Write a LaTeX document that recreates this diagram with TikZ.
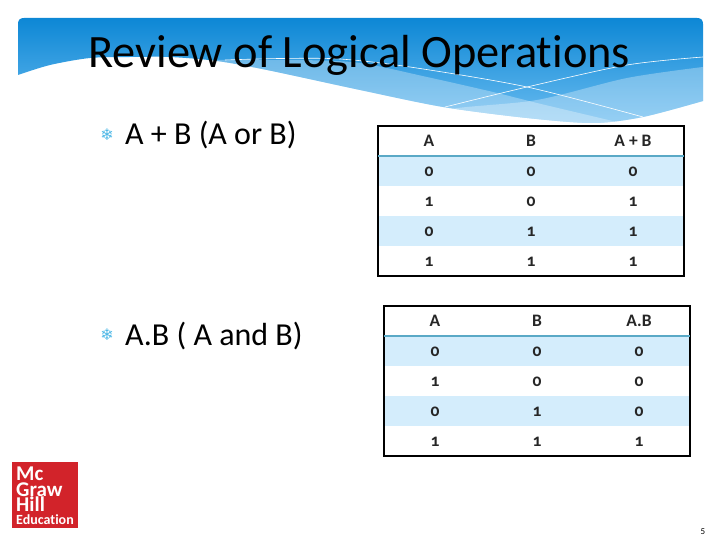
\documentclass[tikz,border=0pt]{standalone}
\usepackage{fontspec}
\setmainfont[Ligatures=CommonOff]{Carlito}
\newfontfamily\tablefont[Numbers=OldStyle]{Carlito}
\newfontfamily\symbolfont{DejaVu Sans}
\definecolor{bannertop}{HTML}{0D87D5}
\definecolor{bannermid}{HTML}{4DADEC}
\definecolor{bannerlow}{HTML}{6ABCF0}
\definecolor{rowblue}{HTML}{D4EDFC}
\definecolor{rulecol}{HTML}{5AA9C6}
\definecolor{flakecol}{HTML}{4FB8E6}
\definecolor{logored}{HTML}{D2232A}
\tikzset{
  cell/.style={font=\tablefont\bfseries\fontsize{17.5}{20}\selectfont, text=black!85, inner sep=0pt},
  body/.style={font=\fontsize{32}{36}\selectfont, anchor=base west, inner sep=0pt},
  flake/.style={font=\symbolfont\fontsize{16}{18}\selectfont, text=flakecol, inner sep=0pt},
  wave/.style={fill=white, fill opacity=.3},
  thinline/.style={draw=white, line width=.6pt},
  frame/.style={draw=black, line width=1.4pt},
  rowfill/.style={fill=rowblue},
  headrule/.style={draw=rulecol, line width=1.6pt},
  logotext/.style={text=white, font=\bfseries\fontsize{21}{15.5}\selectfont, align=left, anchor=north west, inner sep=0pt}
}
\def\bannerpath{(24,18) -- (697,18) .. controls (701,18) and (703,20) .. (703,24) -- (703,101)
  -- plot[smooth] coordinates {(703,101) (643,117) (593,123) (527,118) (443,107) (360,90) (267,70) (217,61) (170,57) (130,57) (90,58) (50,65) (18,75)}
  -- (18,24) .. controls (18,20) and (20,18) .. (24,18) -- cycle}
\begin{document}
\begin{tikzpicture}[x=1pt,y=-1pt]
\useasboundingbox (0,0) rectangle (720,540);
% banner
\shade[top color=bannertop, middle color=bannermid, bottom color=bannerlow] \bannerpath;
\begin{scope}
\clip \bannerpath;
\fill[wave] plot[smooth] coordinates {(217,60) (300,60) (360,63) (427,77) (493,92) (537,103) (600,118) (650,130)} -- (200,130) -- cycle;
\fill[wave] plot[smooth] coordinates {(703,67) (627,78) (537,100) (445,110) (400,130)} -- (703,130) -- cycle;
\draw[thinline] plot[smooth] coordinates {(225,60) (280,58.5) (340,59) (410,67) (527,87) (643,117)};
\draw[thinline] plot[smooth] coordinates {(703,57) (627,65) (527,87) (445,107)};
\end{scope}
\node[font=\fontsize{46.4}{50}\selectfont, anchor=base west, inner sep=0pt] (title) at (88,68) {Review of Logical Operations};
% bullets
\node[flake] (flakeor) at (107,135) {❄};
\node[body] (bodyor) at (125,145) {A + B (A or B)};
\node[flake] (flakeand) at (107,335) {❄};
\node[body] (bodyand) at (125,345) {A.B ( A and B)};
% first table
\fill[rowfill] (378,156) rectangle (684,186);
\fill[rowfill] (378,216) rectangle (684,246);
\draw[frame] (378,126) rectangle (684,276);
\coordinate (orruleL) at (378,156);
\coordinate (orruleR) at (684,156);
\draw[headrule] (orruleL) -- (orruleR);
\node[cell] (orA0) at (429,141) {A};
\node[cell] (orB0) at (531,141) {B};
\node[cell] (orC0) at (633,141) {A + B};
\node[cell] (orA1) at (429,172) {0};
\node[cell] (orB1) at (531,172) {0};
\node[cell] (orC1) at (633,172) {0};
\node[cell] (orA2) at (429,202) {1};
\node[cell] (orB2) at (531,202) {0};
\node[cell] (orC2) at (633,202) {1};
\node[cell] (orA3) at (429,232) {0};
\node[cell] (orB3) at (531,232) {1};
\node[cell] (orC3) at (633,232) {1};
\node[cell] (orA4) at (429,262) {1};
\node[cell] (orB4) at (531,262) {1};
\node[cell] (orC4) at (633,262) {1};
% second table
\fill[rowfill] (384,336) rectangle (690,366);
\fill[rowfill] (384,396) rectangle (690,426);
\draw[frame] (384,306) rectangle (690,456);
\coordinate (andruleL) at (384,336);
\coordinate (andruleR) at (690,336);
\draw[headrule] (andruleL) -- (andruleR);
\node[cell] (andA0) at (435,321) {A};
\node[cell] (andB0) at (537,321) {B};
\node[cell] (andC0) at (639,321) {A.B};
\node[cell] (andA1) at (435,352) {0};
\node[cell] (andB1) at (537,352) {0};
\node[cell] (andC1) at (639,352) {0};
\node[cell] (andA2) at (435,382) {1};
\node[cell] (andB2) at (537,382) {0};
\node[cell] (andC2) at (639,382) {0};
\node[cell] (andA3) at (435,412) {0};
\node[cell] (andB3) at (537,412) {1};
\node[cell] (andC3) at (639,412) {0};
\node[cell] (andA4) at (435,442) {1};
\node[cell] (andB4) at (537,442) {1};
\node[cell] (andC4) at (639,442) {1};
% logo
\fill[logored] (12,462) rectangle (78,528);
\node[logotext] (logoname) at (16,467) {Mc\\Graw\\Hill};
\node[text=white, font=\bfseries\fontsize{14}{15}\selectfont, anchor=base west, inner sep=0pt] (logoedu) at (16,524) {Education};
% page number
\node[font=\fontsize{9}{10}\selectfont, inner sep=0pt] (pagenum) at (703,532) {5};
\end{tikzpicture}
\end{document}
